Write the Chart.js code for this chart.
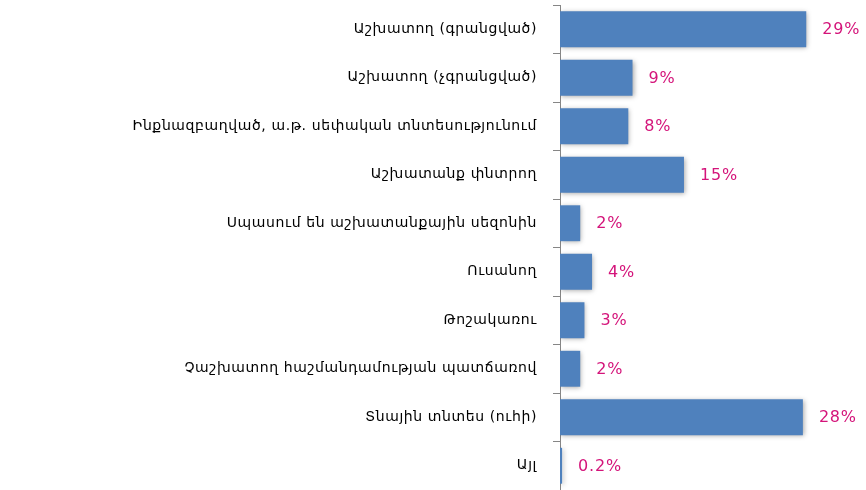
<!DOCTYPE html>
<html>
<head>
<meta charset="utf-8">
<script src="https://cdn.jsdelivr.net/npm/chart.js@4"></script>
<style>
html,body{margin:0;padding:0;background:#fff;}
#wrap{width:866px;height:490px;position:relative;}
</style>
</head>
<body>
<div id="wrap"><canvas id="c" width="866" height="490"></canvas></div>
<script>
const categories = [
  "Աշխատող (գրանցված)",
  "Աշխատող (չգրանցված)",
  "Ինքնազբաղված, ա.թ. սեփական տնտեսությունում",
  "Աշխատանք փնտրող",
  "Սպասում են աշխատանքային սեզոնին",
  "Ուսանող",
  "Թոշակառու",
  "Չաշխատող հաշմանդամության պատճառով",
  "Տնային տնտես (ուհի)",
  "Այլ"
];
const values = [29.2, 8.6, 8.1, 14.7, 2.4, 3.8, 2.9, 2.4, 28.8, 0.25];
const valueLabels = ["29%", "9%", "8%", "15%", "2%", "4%", "3%", "2%", "28%", "0.2%"];

const spacingPlugin = {
  id: 'spacing',
  beforeDraw(chart) { chart.ctx.letterSpacing = '0.6px'; }
};

const shadowPlugin = {
  id: 'barShadow',
  beforeDatasetsDraw(chart) {
    const ctx = chart.ctx;
    ctx.save();
    ctx.shadowColor = 'rgba(0,0,0,0.35)';
    ctx.shadowBlur = 5;
    ctx.shadowOffsetX = 1;
    ctx.shadowOffsetY = 1;
  },
  afterDatasetsDraw(chart) {
    chart.ctx.restore();
  }
};

const labelPlugin = {
  id: 'valueLabels',
  afterDatasetsDraw(chart) {
    const ctx = chart.ctx;
    const meta = chart.getDatasetMeta(0);
    ctx.save();
    ctx.letterSpacing = '0.8px';
    ctx.fillStyle = '#D4147A';
    ctx.font = '16px "DejaVu Sans"';
    ctx.textAlign = 'left';
    ctx.textBaseline = 'middle';
    meta.data.forEach((bar, i) => {
      ctx.fillText(valueLabels[i], bar.x + 16, bar.y + 1);
    });
    ctx.restore();
  }
};

new Chart(document.getElementById('c'), {
  type: 'bar',
  data: {
    labels: categories,
    datasets: [{
      data: values,
      backgroundColor: '#4F81BD',
      borderWidth: 0,
      categoryPercentage: 0.74,
      barPercentage: 1.0
    }]
  },
  options: {
    indexAxis: 'y',
    responsive: false,
    animation: false,
    events: [],
    layout: { padding: { top: 5, right: 53, bottom: 0, left: 0 } },
    plugins: { legend: { display: false }, tooltip: { enabled: false } },
    scales: {
      x: {
        display: false,
        min: 0,
        max: 30
      },
      y: {
        afterFit(scale) {
          scale.width = 560;
          scale.paddingTop = 0;
          scale.paddingBottom = 0;
        },
        border: { display: true, color: '#868686', width: 1 },
        grid: { drawOnChartArea: false, drawTicks: true, tickLength: 7, color: '#868686', offset: true },
        ticks: { color: '#000', padding: 16, font: { family: '"DejaVu Sans"', size: 14 } }
      }
    }
  },
  plugins: [spacingPlugin, shadowPlugin, labelPlugin]
});
</script>
</body>
</html>
